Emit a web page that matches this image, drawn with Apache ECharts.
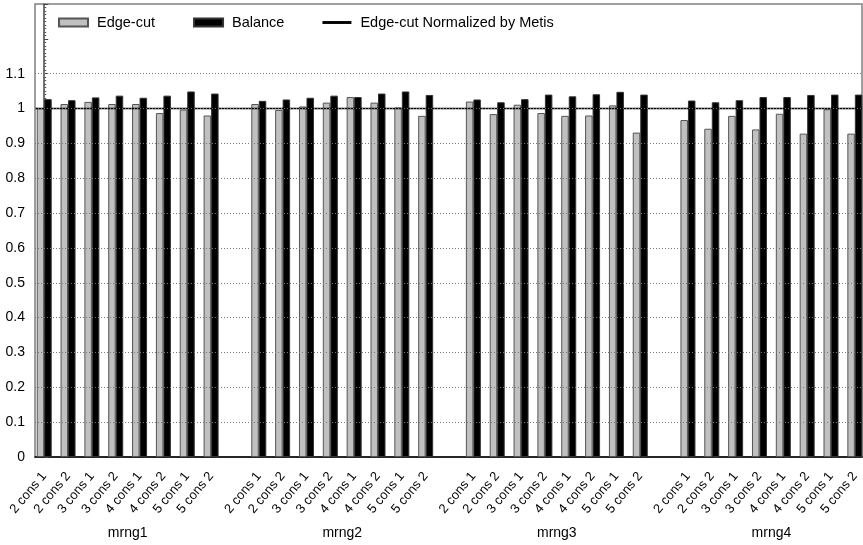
<!DOCTYPE html>
<html>
<head>
<meta charset="UTF-8">
<title>Edge-cut and Balance</title>
<script src="https://cdn.jsdelivr.net/npm/echarts@6/dist/echarts.min.js"></script>
<style>
  html, body { margin: 0; padding: 0; background: #fff; }
  #chart { width: 863px; height: 545px; }
</style>
</head>
<body>
<div id="chart"></div>
<script>
// data
const groups = ['mrng1', 'mrng2', 'mrng3', 'mrng4'];
const configs = ['2 cons 1', '2 cons 2', '3 cons 1', '3 cons 2', '4 cons 1', '4 cons 2', '5 cons 1', '5 cons 2'];
const edgeCut = [
    [1.001, 1.013, 1.019, 1.013, 1.013, 0.987, 0.997, 0.980],
    [1.013, 0.996, 1.006, 1.017, 1.033, 1.017, 1.003, 0.979],
    [1.020, 0.984, 1.011, 0.987, 0.979, 0.980, 1.009, 0.931],
    [0.967, 0.942, 0.979, 0.940, 0.985, 0.928, 0.998, 0.928]
];
const balance = [
    [1.027, 1.024, 1.032, 1.037, 1.031, 1.037, 1.049, 1.043],
    [1.022, 1.026, 1.031, 1.037, 1.033, 1.043, 1.049, 1.039],
    [1.026, 1.018, 1.027, 1.040, 1.035, 1.041, 1.048, 1.040],
    [1.023, 1.018, 1.024, 1.033, 1.033, 1.039, 1.040, 1.040]
];
const metisLevel = 1;
const yTicks = [0, 0.1, 0.2, 0.3, 0.4, 0.5, 0.6, 0.7, 0.8, 0.9, 1, 1.1];

// each group takes 8 slots plus one empty slot
const slotsPerGroup = 9;
const xMin = -0.386, xMax = 34.3;
const font = 'Liberation Sans, Arial, Helvetica, sans-serif';

const slotPos = [], slotLabel = {}, groupPos = [], groupLabel = {};
const edgeData = [], balData = [];
groups.forEach((g, gi) => {
    configs.forEach((c, ci) => {
        const x = gi * slotsPerGroup + ci;
        slotPos.push(x);
        slotLabel[x] = c;
        edgeData.push([x, edgeCut[gi][ci]]);
        balData.push([x, balance[gi][ci]]);
    });
    const mid = gi * slotsPerGroup + (configs.length - 1) / 2;
    groupPos.push(mid);
    groupLabel[mid] = g;
});

const chart = echarts.init(document.getElementById('chart'));
chart.setOption({
    animation: false,
    textStyle: { fontFamily: font },
    grid: {
        left: 35, right: 1, top: 4, bottom: 88,
        show: true, borderColor: '#808080', borderWidth: 1.5
    },
    legend: {
        left: 58, top: 15, padding: 0,
        itemWidth: 29, itemHeight: 8, itemGap: 38,
        textStyle: { fontFamily: font, fontSize: 14.5, color: '#000', padding: [0, 0, 0, 4] },
        data: [
            { name: 'Edge-cut', icon: 'rect' },
            { name: 'Balance', icon: 'rect' },
            // thin dash so only the line shows in the key
            { name: 'Edge-cut Normalized by Metis', icon: 'path://M0,0 H10 V1 H0 Z' }
        ]
    },
    xAxis: [{
        type: 'value', min: xMin, max: xMax,
        axisLine: { show: true, lineStyle: { color: '#000', width: 1.5 } },
        axisTick: { show: false },
        splitLine: { show: false },
        axisLabel: {
            customValues: slotPos,
            formatter: v => slotLabel[v] || '',
            rotate: 50, margin: 17,
            fontFamily: font, fontSize: 13, color: '#000'
        }
    }, {
        type: 'value', min: xMin, max: xMax, position: 'bottom',
        axisLine: { show: false },
        axisTick: { show: false },
        splitLine: { show: false },
        axisLabel: {
            customValues: groupPos,
            formatter: v => groupLabel[v] || '',
            margin: 69,
            fontFamily: font, fontSize: 14, color: '#000'
        }
    }],
    yAxis: {
        type: 'value', min: 0, max: 1.3, interval: 0.1,
        axisLine: { show: true, lineStyle: { color: '#444', width: 1.5 } },
        axisTick: { show: true, inside: true, length: 4, lineStyle: { color: '#444' } },
        minorTick: { show: true, splitNumber: 10, length: 2, lineStyle: { color: '#555' } },
        splitLine: { show: false },
        axisLabel: {
            margin: 10, fontFamily: font, fontSize: 14, color: '#000',
            formatter: v => (v <= 1.1 + 1e-9 ? String(Math.round(v * 10) / 10) : '')
        }
    },
    series: [{
        // dotted grid lines behind the bars
        name: 'gridlines', type: 'line', z: 1, silent: true,
        data: [[xMin, metisLevel], [xMax, metisLevel]],
        symbol: 'none', lineStyle: { opacity: 0 },
        markLine: {
            silent: true, symbol: 'none', label: { show: false },
            lineStyle: { color: '#777', type: [1, 2], width: 1 },
            data: yTicks.filter(v => v > 0).map(v => ({ yAxis: v }))
        }
    }, {
        name: 'Edge-cut', type: 'bar', z: 2,
        barWidth: 7.5, barGap: '0%',
        itemStyle: { color: '#c0c0c0', borderColor: '#555', borderWidth: 1 },
        data: edgeData
    }, {
        name: 'Balance', type: 'bar', z: 2,
        barWidth: 7.5, barGap: '0%',
        itemStyle: { color: '#000', borderColor: '#333', borderWidth: 1 },
        data: balData
    }, {
        name: 'Edge-cut Normalized by Metis', type: 'line', z: 3,
        data: [[xMin, metisLevel], [xMax, metisLevel]],
        symbol: 'none',
        itemStyle: { color: '#000' },
        lineStyle: { color: '#000', width: 1.5 }
    }]
});
</script>
</body>
</html>
